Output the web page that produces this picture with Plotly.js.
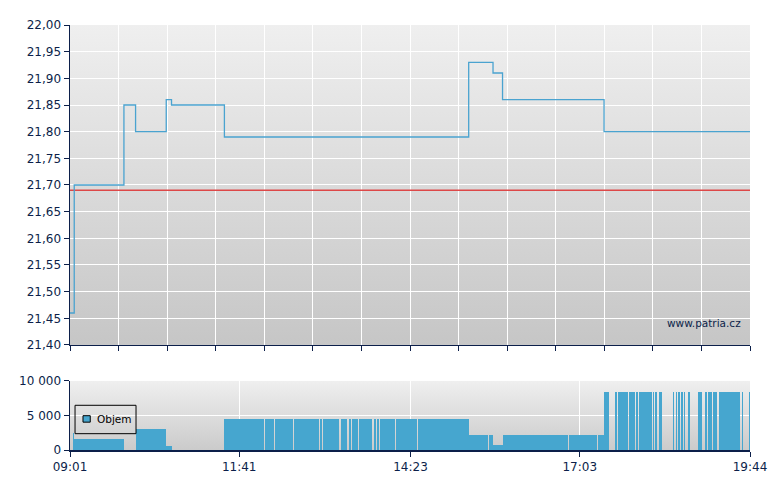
<!DOCTYPE html>
<html>
<head>
<meta charset="utf-8">
<script src="https://cdn.plot.ly/plotly-3.0.1.min.js"></script>
<style>html,body{margin:0;padding:0;background:#fff;}#chart{width:780px;height:490px;}</style>
</head>
<body>
<div id="chart"></div>
<script>
// ---- data ----
const sessionDay = '2024-01-15';
const sessionStart = '09:01';
const sessionEnd = '19:44';

const priceTimes  = ['09:01','09:05','09:52','10:03','10:32','10:37','11:27','15:18','15:41','15:50','17:26','19:44'];
const priceValues = [21.46, 21.70, 21.85, 21.80, 21.86, 21.85, 21.79, 21.93, 21.91, 21.86, 21.80, 21.80];
const prevClose = 21.69;

// volume segments: start time and volume held until the next start (last entry = session end)
const volTimes = ['09:04','09:05','09:52','10:03','10:32','10:37','11:27','12:04','12:05','12:14',
  '12:15','12:32','12:33','12:56','12:57','12:59','13:00','13:15','13:17','13:23',
  '13:25','13:27','13:28','13:33','13:34','13:47','13:48','13:50','13:51','13:53',
  '13:54','14:08','14:09','14:29','14:30','15:18','15:36','15:37','15:41','15:50',
  '16:52','16:53','17:19','17:20','17:26','17:31','17:36','17:38','17:39','17:49',
  '17:50','17:55','17:56','17:58','17:59','18:11','18:12','18:13','18:14','18:16',
  '18:18','18:21','18:31','18:32','18:34','18:35','18:36','18:38','18:39','18:41',
  '18:42','18:43','18:45','18:47','18:55','18:59','19:01','19:03','19:04','19:08',
  '19:09','19:13','19:15','19:35','19:36','19:37','19:43','19:44'];
const volValues = [2500,1600,0,3000,600,0,4500,0,4500,0,
  4500,0,4500,0,4500,0,4500,0,4500,0,
  4500,0,4500,0,4500,0,4500,0,4500,0,
  4500,0,4500,0,4500,2100,0,2100,700,2100,
  0,2100,0,2100,8400,0,8400,0,8400,0,
  8400,0,8400,0,8400,0,8400,0,8400,0,
  8400,0,8400,0,8400,0,8400,0,8400,0,
  8400,0,8400,0,8400,0,8400,0,8400,0,
  8400,0,8400,0,8400,0,8400,0];

const volTickLabels = ['09:01','11:41','14:23','17:03','19:44'];
const priceTicks = [21.40,21.45,21.50,21.55,21.60,21.65,21.70,21.75,21.80,21.85,21.90,21.95,22.00];
const volTicks = [0,5000,10000];
const volTickText = ['0','5 000','10 000'];
const seriesName = 'Objem';
const watermark = 'www.patria.cz';

// ---- helpers ----
const toMs = t => Date.parse(sessionDay + 'T' + t + ':00Z');
const t0 = toMs(sessionStart), t1 = toMs(sessionEnd);

const navy = '#0c1f4a';
const blue = '#46a6cf';
const font = 'DejaVu Sans, Verdana, sans-serif';

// price grid: 14 equal divisions of the session
const priceGridTicks = [];
for (let i = 0; i <= 14; i++) priceGridTicks.push(t0 + (t1 - t0) * i / 14);

// volume bars
const vx = [], vy = [], vw = [];
for (let i = 0; i < volTimes.length - 1; i++) {
  if (volValues[i] > 0) {
    vx.push(toMs(volTimes[i]));
    vw.push(toMs(volTimes[i + 1]) - toMs(volTimes[i]));
    vy.push(volValues[i]);
  }
}

function gradient(top, bottom) {
  const svg = "<svg xmlns='http://www.w3.org/2000/svg' width='10' height='100' viewBox='0 0 10 100' preserveAspectRatio='none'>" +
    "<defs><linearGradient id='g' x1='0' y1='0' x2='0' y2='1'><stop offset='0' stop-color='" + top + "'/>" +
    "<stop offset='1' stop-color='" + bottom + "'/></linearGradient></defs>" +
    "<rect width='10' height='100' fill='url(#g)'/></svg>";
  return 'data:image/svg+xml;utf8,' + encodeURIComponent(svg);
}

const priceDomain = [0.2471, 1];
const volDomain = [0, 0.163];

const traces = [
  {
    x: [t0, t1], y: [prevClose, prevClose],
    xaxis: 'x', yaxis: 'y', mode: 'lines', type: 'scatter',
    line: {color: '#dd4848', width: 1.5}, showlegend: false, hoverinfo: 'skip'
  },
  {
    x: priceTimes.map(toMs), y: priceValues,
    xaxis: 'x', yaxis: 'y', mode: 'lines', type: 'scatter',
    line: {color: '#4aa3d0', width: 1.3, shape: 'hv'}, showlegend: false
  },
  {
    x: vx, y: vy, width: vw, offset: 0, name: seriesName,
    xaxis: 'x2', yaxis: 'y2', type: 'bar',
    marker: {color: blue, line: {width: 0}}, showlegend: false
  }
];

const axisCommon = {
  showline: true, linecolor: navy, linewidth: 1.5,
  ticks: 'outside', ticklen: 5, tickcolor: navy, tickwidth: 1,
  showgrid: true, gridcolor: '#ffffff', gridwidth: 1,
  zeroline: false, tickfont: {family: font, size: 12, color: navy}
};

// legend box (paper coordinates inside the volume panel)
const lg = {x0: 0.0074, x1: 0.0971, y0: 0.0384, y1: 0.1052};

const layout = {
  width: 780, height: 490,
  margin: {l: 70, r: 30, t: 25, b: 40},
  paper_bgcolor: '#ffffff', plot_bgcolor: 'rgba(0,0,0,0)',
  separators: ', ',
  font: {family: font, size: 12, color: navy},
  bargap: 0,
  showlegend: false,
  xaxis: Object.assign({}, axisCommon, {
    type: 'date', range: [t0, t1], domain: [0, 1], anchor: 'y',
    tickmode: 'array', tickvals: priceGridTicks, showticklabels: false
  }),
  yaxis: Object.assign({}, axisCommon, {
    domain: priceDomain, range: [21.40, 22.00], anchor: 'x',
    tickmode: 'array', tickvals: priceTicks, tickformat: '.2f'
  }),
  xaxis2: Object.assign({}, axisCommon, {
    type: 'date', range: [t0, t1], domain: [0, 1], anchor: 'y2',
    tickmode: 'array', tickvals: volTickLabels.map(toMs), ticktext: volTickLabels
  }),
  yaxis2: Object.assign({}, axisCommon, {
    domain: volDomain, range: [0, 10000], anchor: 'x2',
    tickmode: 'array', tickvals: volTicks, ticktext: volTickText
  }),
  images: [
    {source: gradient('#efefef', '#c6c6c6'), xref: 'paper', yref: 'paper',
     x: 0, y: priceDomain[1], sizex: 1, sizey: priceDomain[1] - priceDomain[0],
     xanchor: 'left', yanchor: 'top', sizing: 'stretch', layer: 'below'},
    {source: gradient('#efefef', '#cbcbcb'), xref: 'paper', yref: 'paper',
     x: 0, y: volDomain[1], sizex: 1, sizey: volDomain[1] - volDomain[0],
     xanchor: 'left', yanchor: 'top', sizing: 'stretch', layer: 'below'}
  ],
  shapes: [
    {type: 'rect', xref: 'paper', yref: 'paper', x0: lg.x0, x1: lg.x1, y0: lg.y0, y1: lg.y1,
     line: {color: '#000', width: 1}, fillcolor: 'rgba(0,0,0,0)', layer: 'above'},
    {type: 'rect', xref: 'paper', yref: 'paper', x0: 0.0191, x1: 0.0298, y0: 0.0655, y1: 0.0807,
     line: {color: '#000', width: 1}, fillcolor: blue, layer: 'above'}
  ],
  annotations: [
    {text: watermark, xref: 'paper', yref: 'paper', x: 0.990, y: 0.298,
     xanchor: 'right', yanchor: 'middle', showarrow: false,
     font: {family: font, size: 10.5, color: navy}},
    {text: seriesName, xref: 'paper', yref: 'paper', x: 0.0362, y: 0.0722,
     xanchor: 'left', yanchor: 'middle', showarrow: false,
     font: {family: font, size: 10.5, color: '#000'}}
  ]
};

Plotly.newPlot('chart', traces, layout, {displayModeBar: false, staticPlot: true});
</script>
</body>
</html>
